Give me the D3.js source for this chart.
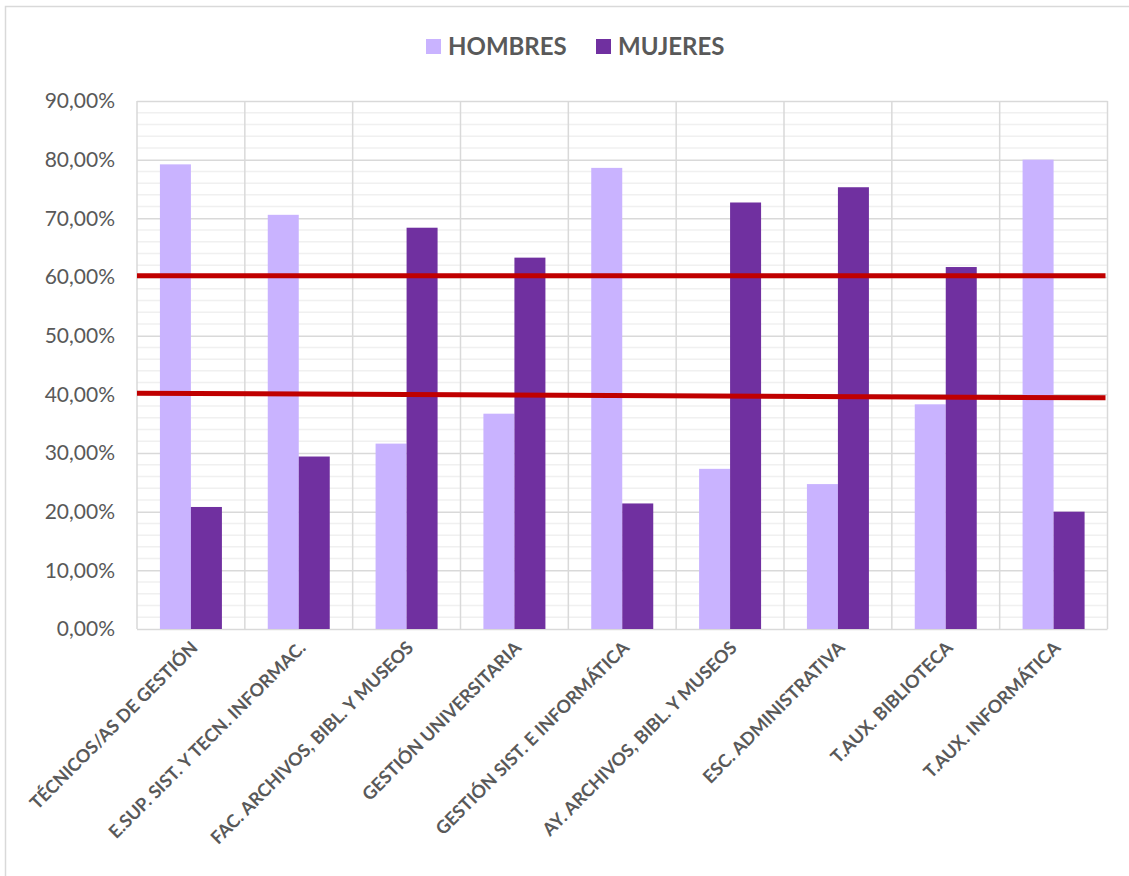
<!DOCTYPE html>
<html><head><meta charset="utf-8">
<script src="https://cdn.jsdelivr.net/npm/d3@7/dist/d3.min.js"></script>
<style>html,body{margin:0;padding:0;background:#fff;}svg{display:block;}</style>
</head><body>
<svg id="c" width="1129" height="876"></svg>
<script>
const categories = ["TÉCNICOS/AS DE GESTIÓN","E.SUP. SIST. Y TECN. INFORMAC.","FAC. ARCHIVOS, BIBL. Y MUSEOS","GESTIÓN UNIVERSITARIA","GESTIÓN SIST. E INFORMÁTICA","AY. ARCHIVOS, BIBL. Y MUSEOS","ESC. ADMINISTRATIVA","T.AUX. BIBLIOTECA","T.AUX. INFORMÁTICA"];
const hombres = [79.2, 70.6, 31.6, 36.7, 78.6, 27.3, 24.7, 38.3, 80.0];
const mujeres = [20.8, 29.4, 68.4, 63.3, 21.4, 72.7, 75.3, 61.7, 20.0];
const seriesNames = ["HOMBRES","MUJERES"];
const yTicks = [0,10,20,30,40,50,60,70,80,90];
const refLineStart = [60.2, 40.2];
const refLineEnd = [60.2, 39.4];

const colors = ["#C9B3FF","#7030A0"];
const textCol = "#595959";
const svg = d3.select("#c");
const font = "Lato, 'Open Sans', sans-serif";

// outer border
svg.append("rect").attr("x",5.5).attr("y",6.5).attr("width",1140).attr("height",900)
  .attr("fill","none").attr("stroke","#d9d9d9").attr("stroke-width",1.5);

const L=137, R=1107.5, T=101, B=629;
const x = d3.scaleBand().domain(categories).range([L,R]).paddingInner(0).paddingOuter(0);
const y = d3.scaleLinear().domain([0,90]).range([B,T]);
const bw = 31;

// minor grid
const minor = d3.range(0,90.01,2).filter(v=>v%10!==0);
svg.append("g").selectAll("line").data(minor).join("line")
  .attr("x1",L).attr("x2",R).attr("y1",d=>y(d)).attr("y2",d=>y(d))
  .attr("stroke","#f0f0f0").attr("stroke-width",1.5);
// major grid via axis
const yAxis = d3.axisLeft(y).tickValues(yTicks).tickSize(-(R-L)).tickPadding(22)
  .tickFormat(d=>d3.format(".2f")(d).replace(".",",")+"%");
const gy = svg.append("g").attr("transform",`translate(${L},0)`).call(yAxis);
gy.select(".domain").remove();
gy.selectAll(".tick line").attr("stroke","#d9d9d9").attr("stroke-width",1.5);
gy.selectAll(".tick text").attr("fill",textCol).style("font-family",font).style("font-size","21px");
// vertical grid at category boundaries
const bounds = categories.map(c=>x(c)).concat([R]);
svg.append("g").selectAll("line").data(bounds).join("line")
  .attr("x1",d=>d).attr("x2",d=>d).attr("y1",T).attr("y2",B)
  .attr("stroke","#d9d9d9").attr("stroke-width",1.5);

// bars
[hombres,mujeres].forEach((vals,si)=>{
  svg.append("g").selectAll("rect").data(vals).join("rect")
    .attr("x",(d,i)=>x(categories[i])+x.bandwidth()/2 - bw + si*bw)
    .attr("y",d=>y(d)).attr("width",bw).attr("height",d=>B-y(d))
    .attr("fill",colors[si]);
});

// red reference lines
svg.append("g").selectAll("line").data(refLineStart).join("line")
  .attr("x1",L).attr("x2",R-2)
  .attr("y1",d=>y(d)).attr("y2",(d,i)=>y(refLineEnd[i]))
  .attr("stroke","#C00000").attr("stroke-width",5);

// x labels
const xAxis = d3.axisBottom(x).tickSize(0).tickPadding(0);
const gx = svg.append("g").attr("transform",`translate(0,${B})`).call(xAxis);
gx.select(".domain").remove();
gx.selectAll(".tick text")
  .attr("fill",textCol).style("font-family",font).style("font-size","18px").style("font-weight","bold")
  .attr("text-anchor","end").attr("dy","0").attr("y",0)
  .attr("transform","translate(8,20) rotate(-45)");

// legend
const leg = svg.append("g");
const legX = [426, 596];
seriesNames.forEach((n,i)=>{
  leg.append("rect").attr("x",legX[i]).attr("y",39).attr("width",15).attr("height",15).attr("fill",colors[i]);
  leg.append("text").attr("x",legX[i]+22).attr("y",55).text(n)
    .attr("fill",textCol).style("font-family",font).style("font-size","24px").style("font-weight","bold");
});
</script>
</body></html>
